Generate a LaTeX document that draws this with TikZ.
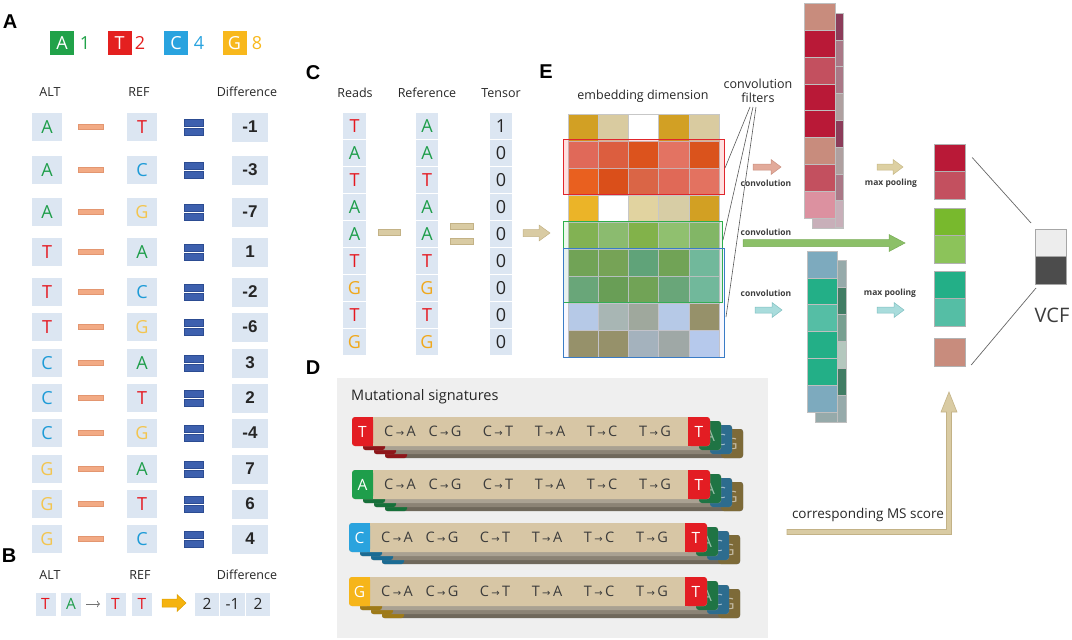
\documentclass[tikz,border=0pt]{standalone}
\usepackage{fontspec}
\setmainfont{Open Sans}
\newfontfamily\arialf{Liberation Sans}
\newfontfamily\dvsf{DejaVu Sans}
\usetikzlibrary{calc,arrows.meta}
\definecolor{cA}{HTML}{1F9E4B}
\definecolor{cT}{HTML}{E5171F}
\definecolor{cC}{HTML}{1E9BD7}
\definecolor{cG}{HTML}{F3C54F}
\definecolor{cGc}{HTML}{F0A81C}
\definecolor{lgA}{HTML}{21A249}
\definecolor{lgT}{HTML}{E4201F}
\definecolor{lgC}{HTML}{29A3DF}
\definecolor{lgG}{HTML}{F8B81C}
\definecolor{boxbg}{HTML}{DCE6F2}
\definecolor{dashfill}{HTML}{F2AA84}
\definecolor{dashline}{HTML}{E39670}
\definecolor{eqfill}{HTML}{3D60AE}
\definecolor{eqline}{HTML}{2C4C92}
\definecolor{tanfill}{HTML}{D9CBA3}
\definecolor{tanline}{HTML}{C3B286}
\definecolor{txt}{HTML}{262626}
\definecolor{graybg}{HTML}{EFEFEF}
\definecolor{sgTan}{HTML}{D7C6A5}
\definecolor{sgRed}{HTML}{E31D23}
\definecolor{sgA}{HTML}{1F9E4B}
\definecolor{sgC}{HTML}{2AA3DE}
\definecolor{sgG}{HTML}{F6B51A}
\definecolor{sgTd}{HTML}{8E161A}
\definecolor{sgAd}{HTML}{17703A}
\definecolor{sgCd}{HTML}{1B6B93}
\definecolor{sgGd}{HTML}{9E7A18}
\definecolor{bkGr}{HTML}{1F7444}
\definecolor{bkBl}{HTML}{2D6C8E}
\definecolor{bkOl}{HTML}{7D6A38}
\definecolor{bk1}{HTML}{A9A192}
\definecolor{bk2}{HTML}{8B8375}
\definecolor{bk3}{HTML}{6F685B}
\definecolor{ckBack}{HTML}{C8AFB9}
\definecolor{cbBack}{HTML}{96AAAA}
\definecolor{arPink}{HTML}{E2AA9A}
\definecolor{arPinkL}{HTML}{C98E7E}
\definecolor{arTan}{HTML}{DDD0A2}
\definecolor{arTanL}{HTML}{C6B785}
\definecolor{arGreen}{HTML}{8CC068}
\definecolor{arGreenL}{HTML}{78AC56}
\definecolor{arBlue}{HTML}{A9DCDC}
\definecolor{arBlueL}{HTML}{7EBFC0}
\definecolor{yel}{HTML}{F5B30F}
\definecolor{yelL}{HTML}{DE9E00}
\definecolor{frRed}{HTML}{E0262C}
\definecolor{frGreen}{HTML}{2DAF4A}
\definecolor{frBlue}{HTML}{3A7CC6}

% block arrow: x1, x2, y, shaft half, head half, head length, style
\newcommand\blkarrow[7]{\filldraw[#7] ({#1},{#3-#4}) -- ({#2-#6},{#3-#4}) -- ({#2-#6},{#3-#5}) -- ({#2},{#3}) -- ({#2-#6},{#3+#5}) -- ({#2-#6},{#3+#4}) -- ({#1},{#3+#4}) -- cycle;}
% embedding grid row
\newcommand\gridrow[2]{\foreach \c [count=\j from 0] in {#2}{\definecolor{tmpc}{HTML}{\c}\filldraw[fill=tmpc, draw=black!22, line width=0.4] ({568+30.2*\j},{114+27*#1}) rectangle ++(30.2,27);}}
% column of cells: x, y, width, height, list
\newcommand\colstack[5]{\foreach \c [count=\j from 0] in {#5}{\definecolor{tmpc}{HTML}{\c}\filldraw[fill=tmpc, draw=black!25, line width=0.4] ({#1},{#2+#4*\j}) rectangle ++(#3,#4);}}
% signature row: y, x0, letter, color, dark color
\newcommand\sigrow[5]{%
  \foreach \k/\tc/\tl/\bc in {3/bkOl/G/bk3, 2/bkBl/C/bk2, 1/bkGr/A/bk1}{%
    \fill[\bc, rounded corners=2.5] ({#2+11*\k},{#1+4*\k}) rectangle ({#2+358+11*\k},{#1+29+4*\k});
    \fill[#5, rounded corners=2.5] ({#2+11*\k},{#1+4*\k}) rectangle ({#2+22+11*\k},{#1+29+4*\k});
    \fill[\tc, rounded corners=3] ({#2+336+11*\k},{#1+4*\k}) rectangle ({#2+358+11*\k},{#1+29+4*\k});
    \node[tagl, text=white, text opacity=0.55] (bl#1-\k) at ({#2+347+11*\k},{#1+14.5+4*\k}) {\tl};
  }
  \fill[sgTan, rounded corners=3] (#2,#1) rectangle ({#2+358},{#1+29});
  \fill[#4, rounded corners=3] (#2,#1) rectangle ({#2+21},{#1+29});
  \fill[#4] ({#2+8},#1) rectangle ({#2+21},{#1+29});
  \fill[sgRed, rounded corners=3] ({#2+336},#1) rectangle ({#2+358},{#1+29});
  \fill[sgRed] ({#2+336},#1) rectangle ({#2+346},{#1+29});
  \node[tagl] (lt#1) at ({#2+10.5},{#1+14.5}) {#3};
  \node[tagl] (rt#1) at ({#2+347},{#1+14.5}) {T};
  \foreach \dx/\p/\q [count=\m] in {48/C/A,93/C/G,146/C/T,198/T/A,250/T/C,303/T/G}{%
    \node[sigtxt] (s#1-\m) at ({#2+\dx},{#1+14.5}) {\p\,{\dvsf\fontsize{10}{10}\selectfont →}\,\q};}
}

\begin{document}
\begin{tikzpicture}[x=1pt,y=-1pt,
  panel/.style={font=\arialf\bfseries\fontsize{20}{20}\selectfont, text=black, inner sep=0},
  hdr/.style={font=\fontsize{12.5}{13}\selectfont, text=txt, inner sep=0},
  abox/.style={fill=boxbg, inner sep=0, minimum width=30, minimum height=28, font=\fontsize{18}{18}\selectfont},
  dbox/.style={fill=boxbg, inner sep=0, minimum width=36, minimum height=29, font=\arialf\bfseries\fontsize{17}{17}\selectfont, text=txt},
  lgbox/.style={inner sep=0, minimum width=24, minimum height=24, text=white, font=\fontsize{18}{18}\selectfont},
  lgnum/.style={inner sep=0, font=\fontsize{18}{18}\selectfont},
  bbox/.style={fill=boxbg, inner sep=0, minimum width=20, minimum height=23, font=\fontsize{15.5}{15.5}\selectfont},
  bnum/.style={fill=boxbg, inner sep=0, minimum width=24.5, minimum height=23, font=\fontsize{15.5}{15.5}\selectfont, text=txt},
  cbox/.style={fill=boxbg, inner sep=0, minimum width=22.5, minimum height=26, font=\fontsize{18}{18}\selectfont},
  small/.style={font=\bfseries\fontsize{8.5}{8.5}\selectfont, text=txt!90, inner sep=0},
  mid/.style={font=\fontsize{12.5}{14}\selectfont, text=txt, inner sep=0, align=center},
  tagl/.style={font=\fontsize{15.5}{15.5}\selectfont, text=white, inner sep=0},
  sigtxt/.style={font=\fontsize{14.5}{14.5}\selectfont, text=txt!90, inner sep=0},
  pcell/.style={draw=black!30, line width=0.4, minimum width=31, minimum height=27.5, inner sep=0},
]
\useasboundingbox (0,0) rectangle (1072,640);

% ---------------- Panel A ----------------
\node[panel] (lA) at (10,22) {A};
\node[lgbox, fill=lgA] (lgA) at (62,43) {A};
\node[lgnum, text=lgA] (nA) at (85,43) {1};
\node[lgbox, fill=lgT] (lgT) at (119.5,43) {T};
\node[lgnum, text=lgT] (nT) at (140,43) {2};
\node[lgbox, fill=lgC] (lgC) at (176,43) {C};
\node[lgnum, text=lgC] (nC) at (199,43) {4};
\node[lgbox, fill=lgG] (lgG) at (234.5,43) {G};
\node[lgnum, text=lgG] (nG) at (257,43) {8};

\node[hdr] (hALT) at (50,92) {ALT};
\node[hdr] (hREF) at (139,92) {REF};
\node[hdr] (hDIF) at (247,92) {Difference};

\foreach \y/\a/\ac/\r/\rc/\d [count=\i] in {127/A/cA/T/cT/-1, 170/A/cA/C/cC/-3, 212/A/cA/G/cG/-7, 252/T/cT/A/cA/1, 292/T/cT/C/cC/-2, 327/T/cT/G/cG/-6, 363/C/cC/A/cA/3, 398/C/cC/T/cT/2, 433/C/cC/G/cG/-4, 469/G/cG/A/cA/7, 504/G/cG/T/cT/6, 539/G/cG/C/cC/4}{
  \node[abox, text=\ac] (alt\i) at (47,\y) {\a};
  \filldraw[fill=dashfill, draw=dashline, line width=0.4] (78,{\y-2.5}) rectangle (103,{\y+2.5});
  \node[abox, text=\rc] (ref\i) at (142,\y) {\r};
  \filldraw[fill=eqfill, draw=eqline, line width=0.4] (184,{\y-8}) rectangle (203,{\y-1});
  \filldraw[fill=eqfill, draw=eqline, line width=0.4] (184,{\y+1}) rectangle (203,{\y+8});
  \node[dbox] (dif\i) at (250,\y) {\d};
}

% ---------------- Panel B ----------------
\node[panel] (lB) at (9,556) {B};
\node[hdr] (bALT) at (50,575) {ALT};
\node[hdr] (bREF) at (140,575) {REF};
\node[hdr] (bDIF) at (247,575) {Difference};
\node[bbox, text=cT] (b1) at (45.5,604) {T};
\node[bbox, text=cA] (b2) at (71,604) {A};
\node[bbox, text=cT] (b3) at (115.5,604) {T};
\node[bbox, text=cT] (b4) at (142,604) {T};
\coordinate (ga) at (86,604);
\coordinate (gb) at (100,604);
\draw[black!55, line width=0.8, -{To[length=3pt]}] (ga) -- (gb);
\blkarrow{162}{186}{603}{4}{8.5}{9}{fill=yel, draw=yelL, line width=0.5}
\node[bnum] (d1) at (207,604) {2};
\node[bnum] (d2) at (232.5,604) {-1};
\node[bnum] (d3) at (258,604) {2};

% ---------------- Panel C ----------------
\node[panel] (lC) at (313,73) {C};
\node[hdr] (cR) at (355,93) {Reads};
\node[hdr] (cF) at (427,93) {Reference};
\node[hdr] (cTn) at (501,93) {Tensor};
\foreach \r/\rc/\f/\fc/\t [count=\i from 0, evaluate=\i as \yy using 126+27*\i] in {T/cT/A/cA/1, A/cA/A/cA/0, T/cT/T/cT/0, A/cA/A/cA/0, A/cA/A/cA/0, T/cT/T/cT/0, G/cGc/G/cGc/0, T/cT/T/cT/0, G/cGc/G/cGc/0}{
  \node[cbox, text=\rc] (rd\i) at (354.5,\yy) {\r};
  \node[cbox, text=\fc] (rf\i) at (427,\yy) {\f};
  \node[cbox, text=txt] (tn\i) at (501,\yy) {\t};
}
\filldraw[fill=tanfill, draw=tanline, line width=0.5] (378,229) rectangle (400,235);
\filldraw[fill=tanfill, draw=tanline, line width=0.5] (450,223) rectangle (473,229);
\filldraw[fill=tanfill, draw=tanline, line width=0.5] (450,238) rectangle (473,244);
\blkarrow{523}{550}{233}{3.5}{8}{11}{fill=tanfill, draw=tanline, line width=0.5}

% ---------------- Panel E ----------------
\node[panel] (lE) at (546,72) {E};
\node[mid] (emb) at (643,96) {embedding dimension};
\node[mid] (filt) at (758,91) {convolution\\filters};
\gridrow{0}{D2A024,D9CBA0,FFFFFF,D2A024,D9CBA0}
\gridrow{1}{DC7866,D86C48,D85F22,E08470,D65F20}
\gridrow{2}{E66E24,D65A1E,D67350,DC7864,E0826E}
\gridrow{3}{EBB428,FFFFFF,E1D3A0,D7CDA5,D2A023}
\gridrow{4}{8CB45A,96BE78,8CB450,9BC378,8CB96E}
\gridrow{5}{78A550,7DA550,64A578,78A550,78BEA0}
\gridrow{6}{6EAA78,6EA050,78A550,6EAA78,78BEA0}
\gridrow{7}{B9CDE6,AAB9AF,A0AA96,B9CDE6,96915F}
\gridrow{8}{96915F,96915F,A5B4B9,A0AAA0,B9CDEB}
\filldraw[draw=frRed, line width=1, fill=red, fill opacity=0.12] (563,139) rectangle (724,194);
\filldraw[draw=frGreen, line width=1, fill=green!60!black, fill opacity=0.07] (563,221) rectangle (722,302);
\filldraw[draw=frBlue, line width=1, fill=blue!40, fill opacity=0.07] (563,248) rectangle (724,357);
\coordinate (fa) at (750,107);
\coordinate (fb) at (753,107);
\coordinate (fc) at (756,107);
\coordinate (ea) at (725,168);
\coordinate (eb) at (723,240);
\coordinate (ec) at (726,317);
\draw[black!65, line width=0.6] (fa) -- (ea) (fb) -- (eb) (fc) -- (ec);

% top conv branch
\blkarrow{753}{781}{167}{3}{7.5}{10}{fill=arPink, draw=arPinkL, line width=0.5}
\node[small] (lc1) at (766,183) {convolution};
\fill[ckBack] (812,13) rectangle (843,228);
\colstack{835}{13}{8}{26.8}{8C3C5A,AA7887,AA7887,AFA0A0,8C3C5A,AFA0A0,AA7887,C8AFB9}
\draw[black!25, line width=0.4] (812,13) rectangle (843,228);
\colstack{804}{3}{31}{26.9}{C88C7D,B91937,C3505F,B91937,B91937,C88C7D,C3505F,DC91A0}
\blkarrow{877}{903}{167}{3}{7.5}{10}{fill=arTan, draw=arTanL, line width=0.5}
\node[small] (lp1) at (891,183) {max pooling};

% middle (green) branch
\node[small] (lc2) at (766,232) {convolution};
\blkarrow{743}{905}{243}{3.5}{8.5}{16}{fill=arGreen, draw=arGreenL, line width=0.5}

% bottom conv branch
\blkarrow{755}{782}{310}{3}{7.5}{10}{fill=arBlue, draw=arBlueL, line width=0.5}
\node[small] (lc3) at (766,293) {convolution};
\fill[cbBack] (815,260) rectangle (846,422);
\colstack{837}{260}{9}{27}{96AAAA,417D64,78A091,B4C8BE,417D64,96AAAA}
\draw[black!25, line width=0.4] (815,260) rectangle (846,422);
\colstack{807}{251}{30}{26.8}{7DAABE,23AF87,55BEA5,23AF87,23AF87,7DAABE}
\blkarrow{877}{904}{310}{3}{7.5}{10}{fill=arBlue, draw=arBlueL, line width=0.5}
\node[small] (lp2) at (890,293) {max pooling};

% pooled features
\node[pcell, fill={rgb,255:red,185;green,25;blue,55}] (p1) at (949.5,157.5) {};
\node[pcell, fill={rgb,255:red,195;green,80;blue,95}] (p2) at (949.5,185) {};
\node[pcell, fill={rgb,255:red,120;green,185;blue,45}] (p3) at (949.5,221.5) {};
\node[pcell, fill={rgb,255:red,140;green,195;blue,90}] (p4) at (949.5,249) {};
\node[pcell, fill={rgb,255:red,35;green,175;blue,135}] (p5) at (949.5,285) {};
\node[pcell, fill={rgb,255:red,85;green,190;blue,165}] (p6) at (949.5,312) {};
\node[pcell, fill={rgb,255:red,200;green,140;blue,125}] (p7) at (949.5,352) {};

% VCF
\node[pcell, draw=black!35, fill=black!7] (v1) at (1050.5,242.5) {};
\node[pcell, draw=black!35, fill=black!70] (v2) at (1050.5,270) {};
\node[inner sep=0, font=\fontsize{20}{20}\selectfont, text=txt!90] (vcf) at (1052,315) {VCF};
\coordinate (va) at (1031,223);
\coordinate (vb) at (1036,288);
\draw[black!60, line width=0.7] ($(p1.east)+(7,0)$) -- (va);
\draw[black!60, line width=0.7] ($(p7.east)+(6,13)$) -- (vb);

% ---------------- Panel D ----------------
\node[panel] (lD) at (313,368) {D};
\fill[graybg] (337,378) rectangle (768,638);
\node[inner sep=0, anchor=west, font=\fontsize{14.5}{14.5}\selectfont, text=txt] (msig) at (351,397) {Mutational signatures};
\sigrow{417}{352}{T}{sgRed}{sgTd}
\sigrow{470}{352}{A}{sgA}{sgAd}
\sigrow{523}{349}{C}{sgC}{sgCd}
\sigrow{577}{349}{G}{sgG}{sgGd}

% MS score arrow
\filldraw[fill=tanfill, draw=tanline, line width=0.6] (787,529.5) -- (946.5,529.5) -- (946.5,412) -- (941,412) -- (949,392) -- (957,412) -- (951.5,412) -- (951.5,534.5) -- (787,534.5) -- cycle;
\node[inner sep=0, font=\fontsize{13.5}{13.5}\selectfont, text=txt] (ms) at (868,515) {corresponding MS score};
\end{tikzpicture}
\end{document}
